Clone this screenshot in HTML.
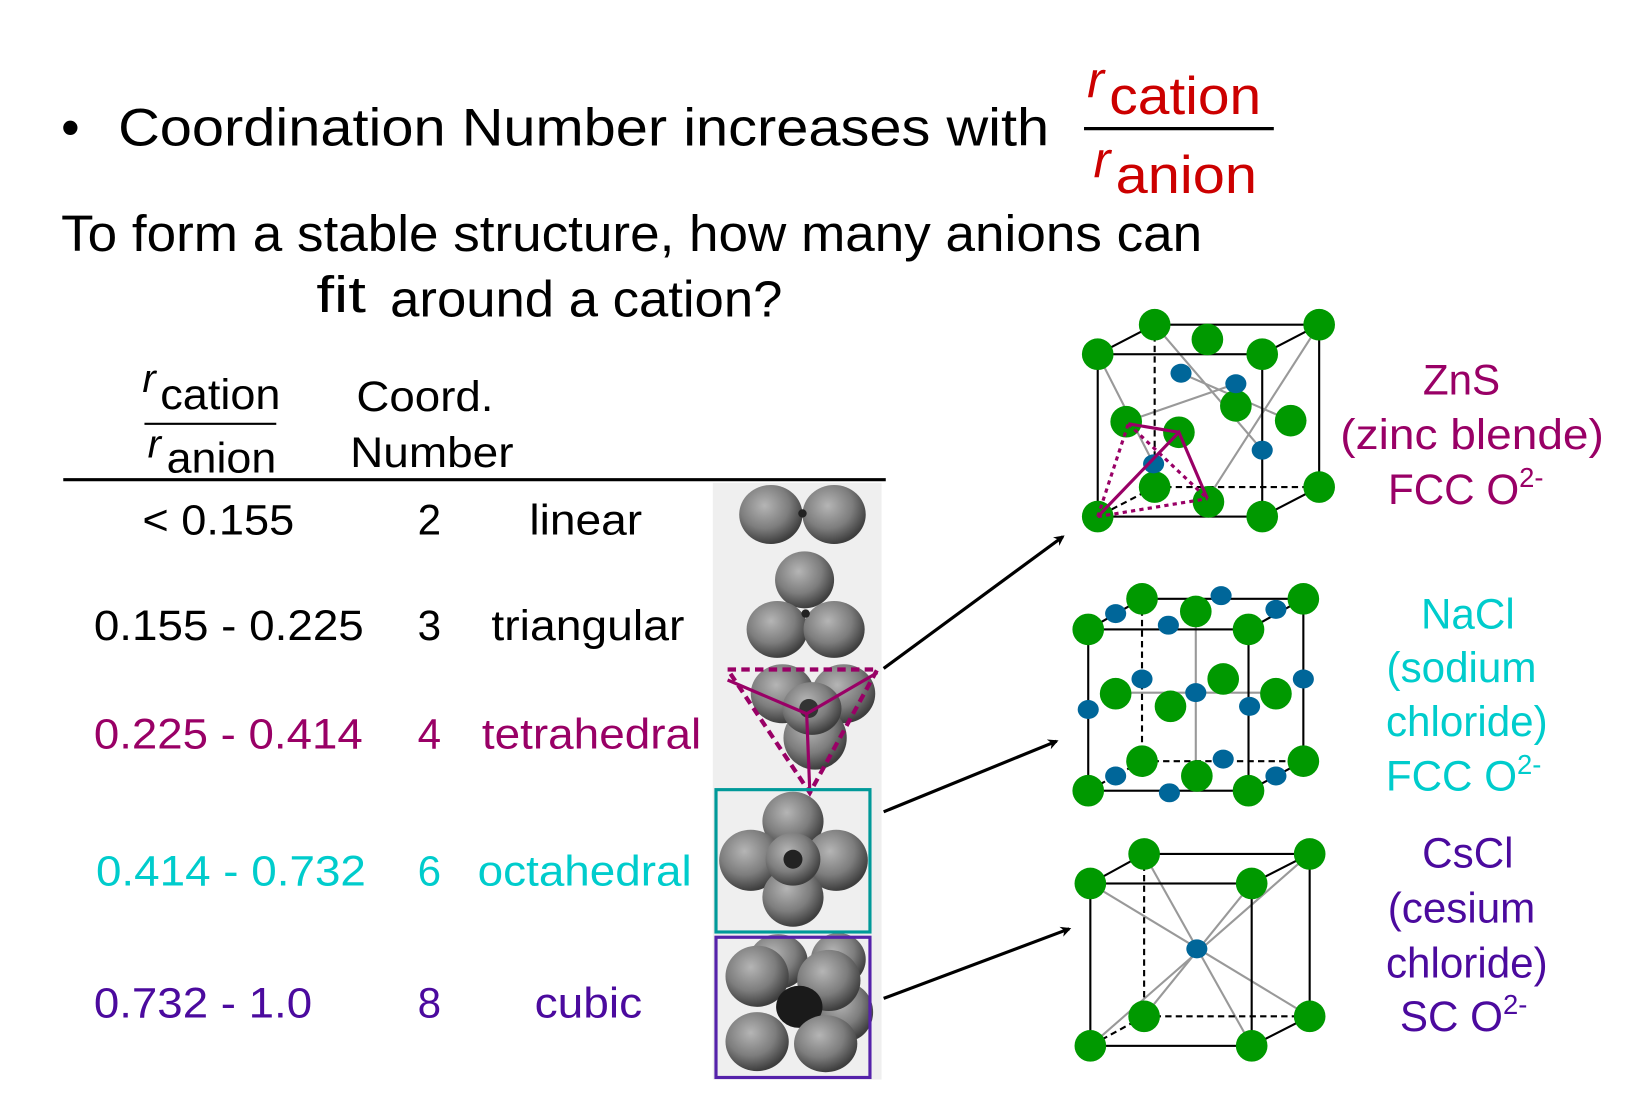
<!DOCTYPE html>
<html><head><meta charset="utf-8"><style>
html,body{margin:0;padding:0;background:#fff;width:1645px;height:1107px;overflow:hidden}
svg{display:block}
text{font-family:"Liberation Sans",Arial,sans-serif}
</style></head><body>
<svg width="1645" height="1107" viewBox="0 0 1560 1050" preserveAspectRatio="none">
<defs>
<radialGradient id="sph" cx="40%" cy="35%" r="65%"><stop offset="0" stop-color="#b5b5b5"/><stop offset="0.6" stop-color="#7d7d7d"/><stop offset="1" stop-color="#3e3e3e"/></radialGradient>
<marker id="ah" markerWidth="10" markerHeight="10" refX="8" refY="5" orient="auto" markerUnits="userSpaceOnUse"><path d="M0,0 L10,5 L0,10 L3,5 z" fill="#000"/></marker>
</defs>

<g>
<text x="58" y="138" font-size="50">•</text>
<text x="112" y="138" font-size="50" textLength="883" lengthAdjust="spacingAndGlyphs">Coordination Number increases with</text>
<g fill="#cc0000">
<text x="1031" y="92" font-size="48" font-style="italic">r</text>
<text x="1052" y="108" font-size="50" textLength="144" lengthAdjust="spacingAndGlyphs">cation</text>
<line x1="1028" y1="122" x2="1208" y2="122" stroke="#000" stroke-width="3"/>
<text x="1037" y="168" font-size="48" font-style="italic">r</text>
<text x="1058" y="183" font-size="50" textLength="134" lengthAdjust="spacingAndGlyphs">anion</text>
</g>
<text x="58" y="238" font-size="48" textLength="1082" lengthAdjust="spacingAndGlyphs">To form a stable structure, how many anions can</text>
<text x="300" y="296" font-size="48" textLength="47" lengthAdjust="spacingAndGlyphs">fit</text>
<text x="370" y="300" font-size="48" textLength="372" lengthAdjust="spacingAndGlyphs">around a cation?</text>
</g>

<g font-size="40">
<text x="135" y="372" font-size="38" font-style="italic">r</text>
<text x="152" y="388" textLength="114" lengthAdjust="spacingAndGlyphs">cation</text>
<line x1="137" y1="402" x2="262" y2="402" stroke="#000" stroke-width="2"/>
<text x="140" y="434" font-size="38" font-style="italic">r</text>
<text x="158" y="448" textLength="104" lengthAdjust="spacingAndGlyphs">anion</text>
<text x="338" y="390" textLength="130" lengthAdjust="spacingAndGlyphs">Coord.</text>
<text x="332" y="443" textLength="155" lengthAdjust="spacingAndGlyphs">Number</text>
<line x1="60" y1="455" x2="840" y2="455" stroke="#000" stroke-width="3"/>
</g>

<g font-size="40">
<g><text x="135" y="507" textLength="144" lengthAdjust="spacingAndGlyphs">&lt; 0.155</text><text x="396" y="507">2</text><text x="502" y="507" textLength="107" lengthAdjust="spacingAndGlyphs">linear</text></g>
<g><text x="89" y="607" textLength="256" lengthAdjust="spacingAndGlyphs">0.155 - 0.225</text><text x="396" y="607">3</text><text x="466" y="607" textLength="183" lengthAdjust="spacingAndGlyphs">triangular</text></g>
<g fill="#990066"><text x="89" y="710" textLength="255" lengthAdjust="spacingAndGlyphs">0.225 - 0.414</text><text x="396" y="710">4</text><text x="457" y="710" textLength="208" lengthAdjust="spacingAndGlyphs">tetrahedral</text></g>
<g fill="#00cccc"><text x="91" y="840" textLength="256" lengthAdjust="spacingAndGlyphs">0.414 - 0.732</text><text x="396" y="840">6</text><text x="453" y="840" textLength="203" lengthAdjust="spacingAndGlyphs">octahedral</text></g>
<g fill="#4b0a9e"><text x="89" y="965" textLength="207" lengthAdjust="spacingAndGlyphs">0.732 - 1.0</text><text x="396" y="965">8</text><text x="507" y="965" textLength="102" lengthAdjust="spacingAndGlyphs">cubic</text></g>
</g>

<g>
<rect x="676" y="458" width="160" height="566" fill="#efefef"/>
<g fill="url(#sph)">
<ellipse cx="731" cy="488" rx="30" ry="28"/><ellipse cx="791" cy="488" rx="30" ry="28"/>
<ellipse cx="763" cy="550" rx="28" ry="27"/><ellipse cx="737" cy="597" rx="29" ry="27"/><ellipse cx="791" cy="597" rx="29" ry="27"/>
<ellipse cx="742" cy="658" rx="30" ry="28"/><ellipse cx="800" cy="658" rx="30" ry="28"/><ellipse cx="773" cy="700" rx="30" ry="30"/><ellipse cx="770" cy="672" rx="28" ry="25"/>
<ellipse cx="752" cy="779" rx="29" ry="28"/><ellipse cx="712" cy="816" rx="30" ry="29"/><ellipse cx="793" cy="816" rx="30" ry="29"/><ellipse cx="752" cy="851" rx="29" ry="28"/><ellipse cx="752" cy="815" rx="26" ry="25"/>
<ellipse cx="738" cy="912" rx="28" ry="26"/><ellipse cx="795" cy="910" rx="26" ry="25"/><ellipse cx="802" cy="960" rx="26" ry="28"/>
<ellipse cx="718" cy="926" rx="30" ry="29"/><ellipse cx="786" cy="930" rx="30" ry="29"/>
</g>
<ellipse cx="758" cy="955" rx="22" ry="20" fill="#1a1a1a"/>
<g fill="url(#sph)"><ellipse cx="718" cy="988" rx="30" ry="28"/><ellipse cx="783" cy="990" rx="30" ry="27"/></g>
<circle cx="761" cy="487" r="4" fill="#222"/><circle cx="764" cy="582" r="4" fill="#222"/>
<circle cx="767" cy="672" r="9" fill="#333"/><circle cx="752" cy="815" r="9" fill="#222"/>
<polygon points="690,635 832,635 768,752" fill="none" stroke="#990066" stroke-width="4" stroke-dasharray="8,5"/>
<g stroke="#990066" stroke-width="3"><line x1="765" y1="677" x2="690" y2="645"/><line x1="765" y1="677" x2="832" y2="638"/><line x1="765" y1="677" x2="768" y2="752"/></g>
<rect x="679" y="749" width="146" height="135" fill="none" stroke="#009999" stroke-width="3"/>
<rect x="679" y="889" width="146" height="133" fill="none" stroke="#5522aa" stroke-width="3"/>
</g>

<g stroke="#000" stroke-width="3">
<line x1="838" y1="634" x2="1008" y2="509" marker-end="url(#ah)"/>
<line x1="838" y1="770" x2="1002" y2="703" marker-end="url(#ah)"/>
<line x1="838" y1="947" x2="1014" y2="881" marker-end="url(#ah)"/>
</g>

<g>
<g stroke="#999" stroke-width="2"><line x1="1095" y1="308" x2="1197" y2="427"/><line x1="1068" y1="400" x2="1172" y2="364"/><line x1="1120" y1="354" x2="1224" y2="399"/><line x1="1145" y1="473" x2="1251" y2="308"/><line x1="1041" y1="336" x2="1094" y2="440"/></g>
<g fill="none" stroke="#000" stroke-width="2"><rect x="1041" y="336" width="156" height="154"/><polyline points="1041,336 1095,308 1251,308 1251,462 1197,490"/><line x1="1197" y1="336" x2="1251" y2="308"/><g stroke-dasharray="6,4"><line x1="1095" y1="308" x2="1095" y2="462"/><line x1="1095" y1="462" x2="1251" y2="462"/><line x1="1095" y1="462" x2="1041" y2="490"/></g></g>
<g fill="#009900"><circle cx="1041" cy="336" r="15"/><circle cx="1197" cy="336" r="15"/><circle cx="1041" cy="490" r="15"/><circle cx="1197" cy="490" r="15"/><circle cx="1095" cy="308" r="15"/><circle cx="1251" cy="308" r="15"/><circle cx="1251" cy="462" r="15"/><circle cx="1095" cy="462" r="15"/><circle cx="1145" cy="322" r="15"/><circle cx="1118" cy="410" r="15"/><circle cx="1068" cy="400" r="15"/><circle cx="1224" cy="399" r="15"/><circle cx="1172" cy="385" r="15"/><circle cx="1146" cy="476" r="15"/></g>
<g fill="#006699"><ellipse cx="1120" cy="354" rx="10" ry="9"/><ellipse cx="1172" cy="364" rx="10" ry="9"/><ellipse cx="1197" cy="427" rx="10" ry="9"/><ellipse cx="1094" cy="440" rx="10" ry="9"/></g>
<g stroke="#990066" stroke-width="3" fill="none"><polyline points="1041,490 1118,410 1145,473"/><line x1="1070" y1="402" x2="1118" y2="410"/><g stroke-dasharray="4,4"><line x1="1041" y1="490" x2="1070" y2="402"/><line x1="1070" y1="402" x2="1145" y2="473"/><line x1="1041" y1="490" x2="1145" y2="473"/></g></g>
</g>

<g>
<g stroke="#999" stroke-width="2"><line x1="1134" y1="582" x2="1134" y2="736"/><line x1="1057" y1="657" x2="1210" y2="657"/></g>
<g fill="none" stroke="#000" stroke-width="2"><rect x="1032" y="597" width="152" height="153"/><polyline points="1032,597 1083,568 1236,568 1236,722 1184,750"/><line x1="1184" y1="597" x2="1236" y2="568"/><g stroke-dasharray="6,4"><line x1="1083" y1="568" x2="1083" y2="722"/><line x1="1083" y1="722" x2="1236" y2="722"/><line x1="1083" y1="722" x2="1032" y2="750"/></g></g>
<g fill="#009900"><circle cx="1032" cy="597" r="15"/><circle cx="1184" cy="597" r="15"/><circle cx="1032" cy="750" r="15"/><circle cx="1184" cy="750" r="15"/><circle cx="1083" cy="568" r="15"/><circle cx="1236" cy="568" r="15"/><circle cx="1236" cy="722" r="15"/><circle cx="1083" cy="722" r="15"/><circle cx="1134" cy="580" r="15"/><circle cx="1135" cy="736" r="15"/><circle cx="1058" cy="658" r="15"/><circle cx="1210" cy="658" r="15"/><circle cx="1160" cy="644" r="15"/><circle cx="1110" cy="670" r="15"/></g>
<g fill="#006699"><ellipse cx="1058" cy="582" rx="10" ry="9"/><ellipse cx="1158" cy="565" rx="10" ry="9"/><ellipse cx="1210" cy="578" rx="10" ry="9"/><ellipse cx="1108" cy="593" rx="10" ry="9"/><ellipse cx="1083" cy="644" rx="10" ry="9"/><ellipse cx="1236" cy="644" rx="10" ry="9"/><ellipse cx="1134" cy="657" rx="10" ry="9"/><ellipse cx="1032" cy="673" rx="10" ry="9"/><ellipse cx="1185" cy="670" rx="10" ry="9"/><ellipse cx="1160" cy="720" rx="10" ry="9"/><ellipse cx="1058" cy="736" rx="10" ry="9"/><ellipse cx="1210" cy="736" rx="10" ry="9"/><ellipse cx="1109" cy="752" rx="10" ry="9"/></g>
</g>

<g>
<g stroke="#999" stroke-width="2"><line x1="1034" y1="838" x2="1242" y2="964"/><line x1="1187" y1="838" x2="1085" y2="964"/><line x1="1085" y1="810" x2="1187" y2="992"/><line x1="1242" y1="810" x2="1034" y2="992"/></g>
<g fill="none" stroke="#000" stroke-width="2"><rect x="1034" y="838" width="153" height="154"/><polyline points="1034,838 1085,810 1242,810 1242,964 1187,992"/><line x1="1187" y1="838" x2="1242" y2="810"/><g stroke-dasharray="6,4"><line x1="1085" y1="810" x2="1085" y2="964"/><line x1="1085" y1="964" x2="1242" y2="964"/><line x1="1085" y1="964" x2="1034" y2="992"/></g></g>
<g fill="#009900"><circle cx="1034" cy="838" r="15"/><circle cx="1187" cy="838" r="15"/><circle cx="1034" cy="992" r="15"/><circle cx="1187" cy="992" r="15"/><circle cx="1085" cy="810" r="15"/><circle cx="1242" cy="810" r="15"/><circle cx="1242" cy="964" r="15"/><circle cx="1085" cy="964" r="15"/></g>
<ellipse cx="1135" cy="900" rx="10" ry="9" fill="#006699"/>
</g>

<g font-size="40" text-anchor="middle">
<g fill="#990066"><text x="1386" y="374">ZnS</text><text x="1396" y="426" textLength="250" lengthAdjust="spacingAndGlyphs">(zinc blende)</text><text x="1390" y="478">FCC O<tspan font-size="26" dy="-16">2-</tspan></text></g>
<g fill="#00cccc"><text x="1392" y="596">NaCl</text><text x="1386" y="647">(sodium</text><text x="1391" y="698">chloride)</text><text x="1388" y="750">FCC O<tspan font-size="26" dy="-16">2-</tspan></text></g>
<g fill="#4b0a9e"><text x="1392" y="823">CsCl</text><text x="1386" y="875">(cesium</text><text x="1391" y="927">chloride)</text><text x="1388" y="978">SC O<tspan font-size="26" dy="-16">2-</tspan></text></g>
</g>
</svg>
</body></html>
